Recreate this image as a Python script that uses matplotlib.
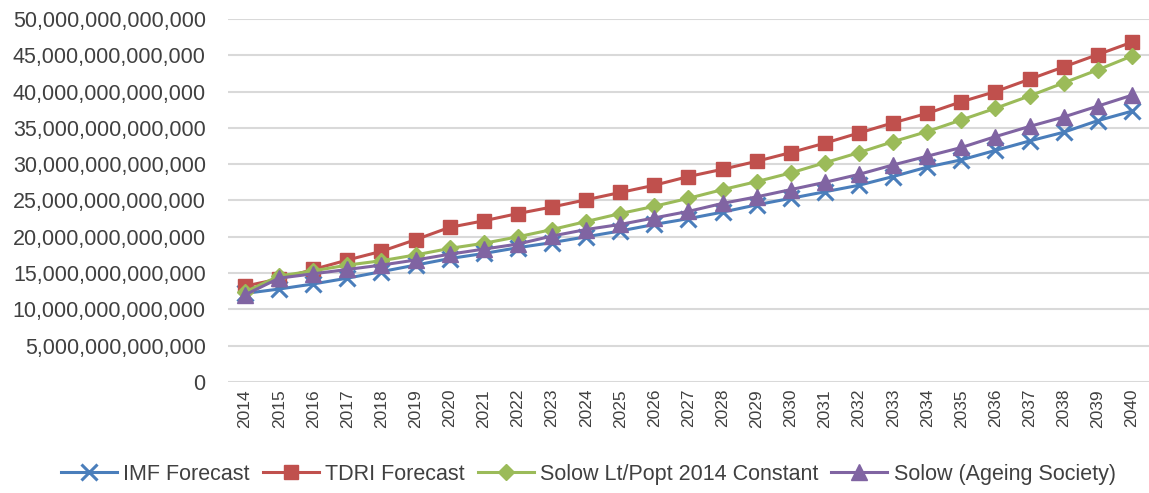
import matplotlib.pyplot as plt
from matplotlib.ticker import FuncFormatter

plt.rcParams['font.family'] = ['Liberation Sans', 'DejaVu Sans']

years = list(range(2014, 2041))
imf = [12.2, 12.8, 13.5, 14.3, 15.2, 16.1, 17.0, 17.7, 18.5, 19.2, 20.0, 20.8, 21.7, 22.5,
       23.4, 24.4, 25.3, 26.2, 27.1, 28.3, 29.6, 30.6, 31.9, 33.2, 34.4, 36.0, 37.3]
tdri = [13.2, 14.2, 15.5, 16.8, 18.0, 19.6, 21.3, 22.2, 23.2, 24.1, 25.1, 26.1, 27.1, 28.3,
        29.3, 30.4, 31.6, 32.9, 34.3, 35.7, 37.0, 38.6, 40.0, 41.7, 43.4, 45.1, 46.8]
solow_const = [12.4, 14.6, 15.3, 16.1, 16.7, 17.5, 18.4, 19.1, 20.0, 21.0, 22.1, 23.2, 24.2, 25.3,
               26.5, 27.6, 28.8, 30.2, 31.6, 33.1, 34.5, 36.1, 37.7, 39.4, 41.2, 43.0, 44.9]
solow_ageing = [12.0, 14.3, 14.9, 15.5, 16.1, 16.8, 17.6, 18.3, 19.0, 20.1, 21.0, 21.7, 22.6, 23.5,
                24.6, 25.5, 26.5, 27.5, 28.6, 29.9, 31.1, 32.3, 33.8, 35.2, 36.5, 38.0, 39.5]
# values above are in trillions
scale = 1e12

fig = plt.figure(figsize=(11.49, 4.93), dpi=100)
ax = fig.add_axes([0.1984, 0.2252, 0.8016, 0.7363])

x = list(range(len(years)))
series = [
    (imf, 'IMF Forecast', '#4A7EBB', 'x', 11, 2.2),
    (tdri, 'TDRI Forecast', '#C0504D', 's', 10, 1),
    (solow_const, 'Solow Lt/Popt 2014 Constant', '#9BBB59', 'D', 8, 1),
    (solow_ageing, 'Solow (Ageing Society)', '#8064A2', '^', 11, 1),
]
for vals, name, col, mk, ms, mew in series:
    ax.plot(x, [v * scale for v in vals], color=col, lw=2.2, marker=mk, markersize=ms,
            markeredgewidth=mew, markeredgecolor=col, markerfacecolor=col, label=name)

ax.set_xlim(-0.5, len(years) - 0.5)
ax.set_ylim(0, 50e12)
ax.set_yticks([i * 5e12 for i in range(11)])
ax.yaxis.set_major_formatter(FuncFormatter(lambda v, p: '0' if v == 0 else f'{v:,.0f}'))
ax.set_xticks(x)
ax.set_xticklabels([str(y) for y in years], rotation=90)
ax.tick_params(axis='y', length=0, pad=16, labelsize=15.5, labelcolor='#404040')
ax.tick_params(axis='x', length=0, pad=5, labelsize=12.5, labelcolor='#404040')
ax.grid(axis='y', color='#D9D9D9', lw=1.5)
ax.set_axisbelow(True)
for s in ax.spines.values():
    s.set_visible(False)

fig.legend(loc='center', bbox_to_anchor=(0.512, 0.038), ncol=4, frameon=False, fontsize=15.5,
           handlelength=2.6, columnspacing=0.6, handletextpad=0.3, labelcolor='#404040')

plt.savefig('out.png', dpi=100)
